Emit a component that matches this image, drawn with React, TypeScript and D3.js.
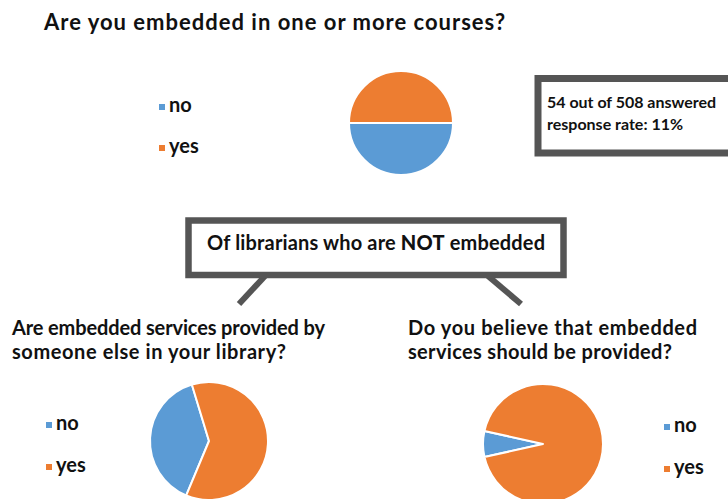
import React from "react";
import * as d3 from "d3";

const categories = ["no", "yes"];
const embeddedValues = [50, 50];
const providedByOtherValues = [39, 61];
const shouldProvideValues = [7, 93];

const mainTitle = "Are you embedded in one or more courses?";
const responseLines = ["54 out of 508 answered", "response rate: 11%"];
const leftTitle = ["Are embedded services provided by", "someone else in your library?"];
const rightTitle = ["Do you believe that embedded", "services should be provided?"];

const colors = d3.scaleOrdinal<string, string>().domain(categories).range(["#5B9BD5", "#ED7D31"]);

const FONT = "Lato, 'Open Sans', sans-serif";
const BOX = "#555555";

type PieProps = { values: number[]; cx: number; cy: number; r: number; start: number };

function Pie({ values, cx, cy, r, start }: PieProps) {
  const startRad = (start * Math.PI) / 180;
  const pie = d3
    .pie<number>()
    .sort(null)
    .value((d) => d)
    .startAngle(startRad)
    .endAngle(startRad + 2 * Math.PI);
  const arc = d3.arc<d3.PieArcDatum<number>>().innerRadius(0).outerRadius(r);
  const arcs = pie(values);
  return (
    <g transform={`translate(${cx},${cy})`}>
      {arcs.map((a, i) => (
        <path key={i} d={arc(a) || ""} fill={colors(categories[i])} stroke="#fff" strokeWidth={2} strokeLinejoin="round" />
      ))}
    </g>
  );
}

function Legend({ x, y, gap }: { x: number; y: number; gap: number }) {
  return (
    <g>
      {categories.map((c, i) => (
        <g key={c} transform={`translate(${x},${y + i * gap})`}>
          <rect x={0} y={-8} width={6} height={6} fill={colors(c)} />
          <text x={10} y={0} fontFamily={FONT} fontWeight={700} fontSize={20} fill="#111">
            {c}
          </text>
        </g>
      ))}
    </g>
  );
}

export default function App() {
  const leftLens = [313, 274];
  const rightLens = [289, 264];
  return (
    <svg
      width={728}
      height={499}
      viewBox="0 0 728 499"
      style={{ position: "absolute", left: 0, top: 0, background: "#fff" }}
    >
      <rect x={0} y={0} width={728} height={499} fill="#fff" />
      <text x={44} y={30} fontFamily={FONT} fontWeight={700} fontSize={22} fill="#111" textLength={461} lengthAdjust="spacing">
        {mainTitle}
      </text>

      <Legend x={159} y={112} gap={41} />
      <Pie values={embeddedValues} cx={401} cy={123} r={52} start={90} />

      <rect x={538} y={78.5} width={200} height={74.5} fill="#fff" stroke={BOX} strokeWidth={7} />
      <text x={547} y={108} fontFamily={FONT} fontWeight={700} fontSize={16} fill="#111" textLength={169} lengthAdjust="spacing">
        {responseLines[0]}
      </text>
      <text x={547} y={130} fontFamily={FONT} fontWeight={700} fontSize={16} fill="#111">
        {responseLines[1]}
      </text>

      <line x1={265} y1={276} x2={239} y2={304} stroke={BOX} strokeWidth={6} />
      <line x1={488} y1={276} x2={521} y2={304} stroke={BOX} strokeWidth={6} />
      <rect x={188.5} y={220.5} width={375} height={54.5} fill="#fff" stroke={BOX} strokeWidth={6.5} />
      <text x={207} y={250} fontFamily={FONT} fontWeight={700} fontSize={20} fill="#111" textLength={338} lengthAdjust="spacing">
        Of librarians who are <tspan fontWeight={900}>NOT</tspan> embedded
      </text>

      {leftTitle.map((l, i) => (
        <text key={i} x={12} y={335 + i * 24} fontFamily={FONT} fontWeight={700} fontSize={20} fill="#111" textLength={leftLens[i]} lengthAdjust="spacing">
          {l}
        </text>
      ))}
      {rightTitle.map((l, i) => (
        <text key={i} x={408} y={335 + i * 24} fontFamily={FONT} fontWeight={700} fontSize={20} fill="#111" textLength={rightLens[i]} lengthAdjust="spacing">
          {l}
        </text>
      ))}

      <Legend x={46} y={430} gap={42} />
      <Pie values={providedByOtherValues} cx={209} cy={441} r={59} start={202.7} />

      <Legend x={664} y={432} gap={42} />
      <Pie values={shouldProvideValues} cx={543} cy={444} r={60} start={257.4} />
    </svg>
  );
}
